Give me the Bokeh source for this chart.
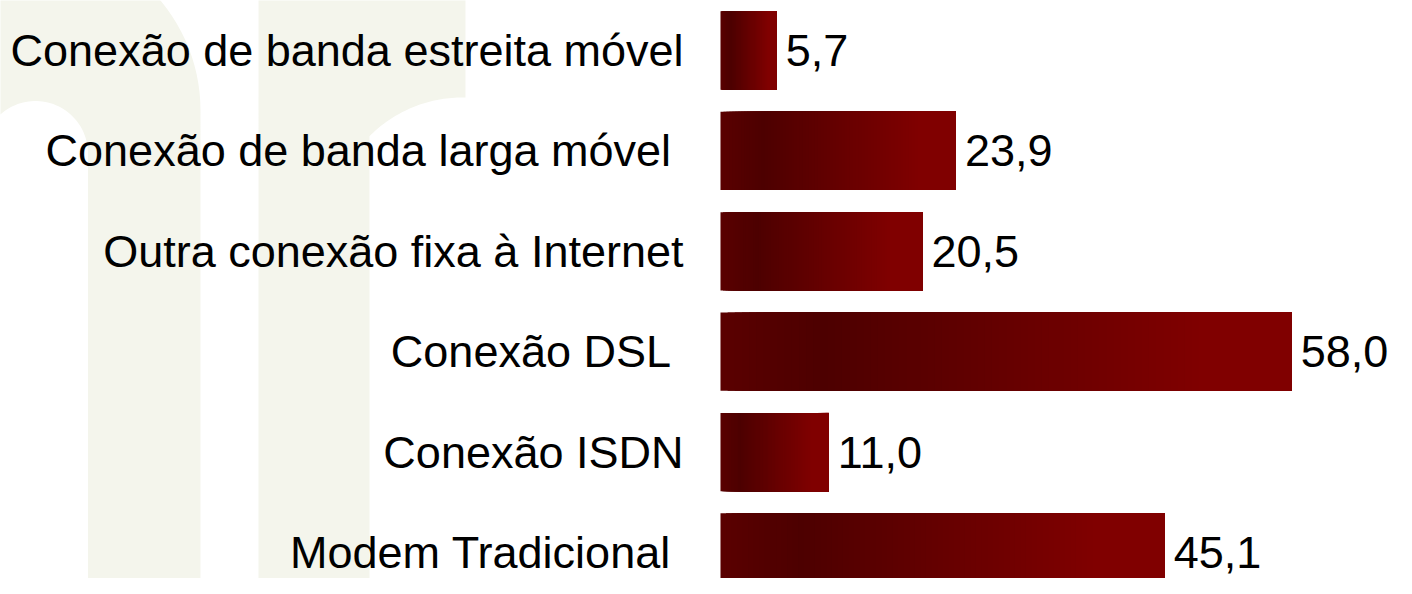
import numpy as np
from bokeh.plotting import figure
from bokeh.models import Range1d, ColumnDataSource
from bokeh.core.properties import value
from bokeh.embed import file_html
from bokeh.resources import INLINE

# ---- data ----
categories = [
    "Conexão de banda estreita móvel",
    "Conexão de banda larga móvel ",
    "Outra conexão fixa à Internet",
    "Conexão DSL ",
    "Conexão ISDN",
    "Modem Tradicional ",
]
values = [5.7, 23.9, 20.5, 58.0, 11.0, 45.1]

# ---- layout / style ----
W, H = 1396, 578
PXU = 9.85            # pixels per value unit
X0 = 720              # frame pixel of value 0
ROW = 100.4           # pixels per category row
TOP = 50.0 / ROW      # offset of first row centre
BAR_H = 0.78
FONT = "Liberation Sans"
FS = "45px"
BEIGE = "#f4f5ec"
GRAD_POS = [0.0, 0.18, 0.85, 1.0]
GRAD_COL = ["#5a0000", "#4d0000", "#800000", "#800000"]

p = figure(width=W, height=H, output_backend="svg", toolbar_location=None,
           x_range=Range1d(-X0 / PXU, (W - X0) / PXU),
           y_range=Range1d(H / ROW - TOP, -TOP),
           min_border=0, background_fill_color="white",
           border_fill_color="white", outline_line_color=None)
p.axis.visible = False
p.grid.visible = False


def pg(X, Y):
    """pixel -> data coords (decoration only)"""
    X = np.asarray(X, float)
    Y = np.asarray(Y, float)
    return list((X - X0) / PXU), list(Y / ROW - TOP)


# ---- background watermark (decoration) ----
t1 = np.linspace(0, np.pi, 60)
lx = [200, 200] + list(29 + 171 * np.cos(t1)) + [-142, -17.5] + \
     list(35 + 52.5 * np.cos(t1[::-1])) + [87.5, 87.5]
ly = [600, 110] + list(110 - 171 * np.sin(t1)) + [153, 153] + \
     list(153 - 52.5 * np.sin(t1[::-1])) + [153, 600]
a0, a1 = np.arccos(3 / 131), np.arccos((369 - 462) / 131)
t2 = np.linspace(a0, a1, 40)
rx = [258, 258, 465] + list(462 + 131 * np.cos(t2)) + [369]
ry = [600, -10, -10] + list(228 - 131 * np.sin(t2)) + [600]
wx1, wy1 = pg(lx, ly)
wx2, wy2 = pg(rx, ry)
p.patches(xs=[wx1, wx2], ys=[wy1, wy2], fill_color=BEIGE, line_color=None)

# ---- gradient bars (overlapping slices, each running to the bar end) ----
N = 80
rgb = np.array([[int(c[i:i + 2], 16) for i in (1, 3, 5)] for c in GRAD_COL], float)
lefts, rights, ys, cols = [], [], [], []
for i, v in enumerate(values):
    for j in range(N):
        t = (j + 0.5) / N
        r, g, b = (int(round(np.interp(t, GRAD_POS, rgb[:, k]))) for k in range(3))
        lefts.append(v * j / N)
        rights.append(v)
        ys.append(i)
        cols.append("#%02x%02x%02x" % (r, g, b))
bars = ColumnDataSource(dict(left=lefts, right=rights, y=ys, color=cols))
p.hbar(y="y", left="left", right="right", height=BAR_H, source=bars,
       fill_color="color", line_color=None)

# ---- labels ----
src = ColumnDataSource(dict(
    y=list(range(len(values))),
    v=values,
    zero=[0] * len(values),
    cat=categories,
    lab=[f"{v:.1f}".replace(".", ",") for v in values],
))
p.text(x="zero", y="y", text="cat", source=src, x_offset=-37,
       text_align="right", text_baseline="middle",
       text_font=value(FONT), text_font_size=FS, text_color="black")
p.text(x="v", y="y", text="lab", source=src, x_offset=9,
       text_align="left", text_baseline="middle",
       text_font=value(FONT), text_font_size=FS, text_color="black")

open("out.html", "w").write(file_html(p, INLINE))
